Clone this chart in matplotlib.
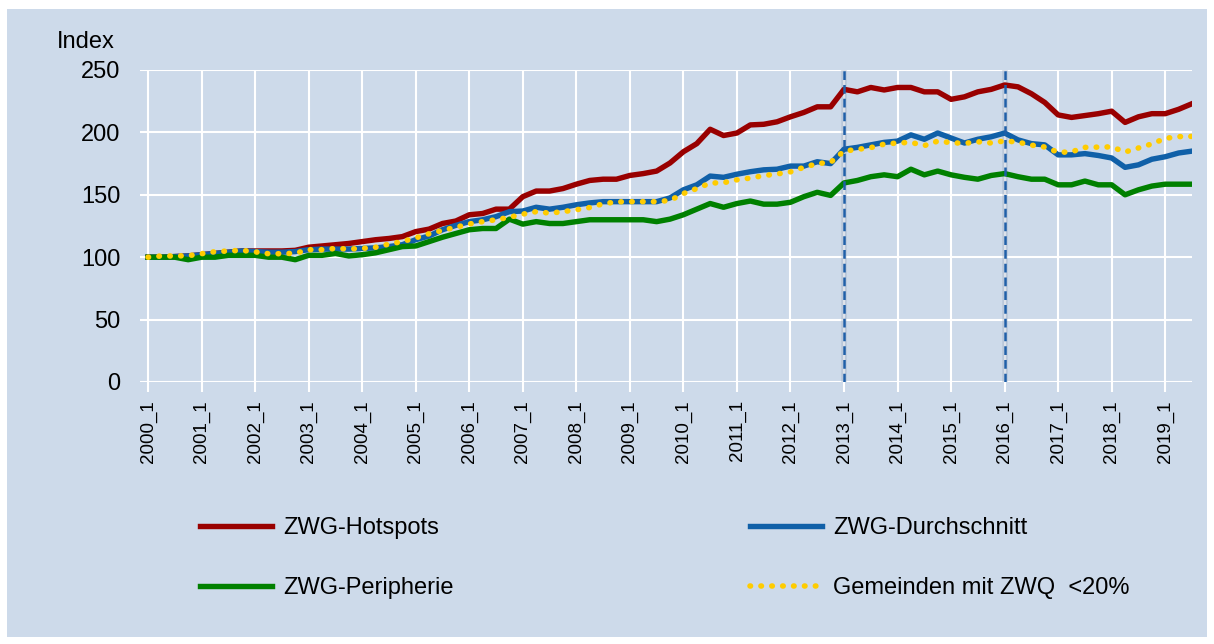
import numpy as np
import matplotlib
matplotlib.use('Agg')
import matplotlib.pyplot as plt
from matplotlib.patches import Rectangle

plt.rcParams['font.family'] = ['Liberation Sans', 'DejaVu Sans']

# --- Daten (Index, Quartale 2000_1 bis 2019_3) ---
hotspots = [100, 100, 100.5, 101, 102, 103, 104, 105, 105, 105, 105, 105.5,
            108, 109, 110, 111, 112.5, 114, 115, 116.5, 120.5, 122.5, 127, 129,
            134, 135, 138.5, 138.5, 148.5, 153, 153, 155, 158.5, 161.5,
            162.5, 162.5, 165.5, 167, 169, 175.5, 184.5, 191, 202.5, 197.5, 199.5, 206,
            206.5, 208.5, 212.5, 216, 220.5, 220.5, 234.5, 232.5, 236, 234, 236, 236,
            232.5, 232.5, 226.5, 228.5, 232.5, 234.5, 238, 236.5, 231, 224, 214, 212,
            213.5, 215, 217, 208, 212.5, 215, 215, 218.5, 223]
durchschnitt = [100, 100, 100.5, 101, 102, 103, 104, 105, 104.5, 104, 104, 104.5,
                106, 106.5, 106.5, 106.5, 107, 107.5, 108.5, 110, 114, 117, 122, 125.5,
                128.5, 130, 132.5, 136.5, 137, 140, 138.5, 140, 142, 143.5,
                144.5, 144.5, 144.5, 144.5, 144.5, 147.5, 154, 158, 165, 164, 166.5, 168.5,
                170, 170.5, 173, 173, 176.5, 175, 186.5, 188, 190, 192, 193, 198,
                194.5, 199.5, 195.5, 191.5, 194.5, 196.5, 199.5, 194, 191, 190, 182, 182,
                183, 181.5, 179.5, 172, 174, 178.5, 180.5, 183.5, 185]
peripherie = [100, 100, 100, 98, 100, 100, 101.5, 101.5, 101.5, 100, 100, 98,
              101.5, 101.5, 103, 101, 102, 103.5, 106, 108.5, 109, 112.5, 116, 119,
              122, 123, 123, 130.5, 126.5, 128.5, 127, 127, 128.5, 130,
              130, 130, 130, 130, 128.5, 130.5, 134, 138.5, 143, 140, 143, 145,
              142.5, 142.5, 144, 148.5, 152, 149.5, 159.5, 161.5, 164.5, 166, 164.5, 170.5,
              166, 169, 166, 164, 162.5, 165.5, 167, 164.5, 162.5, 162.5, 158, 158,
              161, 158, 158, 150, 154, 157, 158.5, 158.5, 158.5]
zwq_unter20 = [100, 101, 101, 101.2, 102.8, 104.4, 105, 105.5, 104.3, 102.8, 102.8, 103.2,
               106, 106, 107, 106.6, 107, 108, 110.5, 112.5, 115.5, 118.8, 121.5, 124,
               126.6, 128.5, 130, 132, 134.5, 136.5, 135.3, 136.5, 138, 139.8,
               142.8, 144.3, 144.5, 144.5, 144.5, 145.5, 151, 155, 159.4, 159.7, 162, 163.4,
               165.4, 166.7, 168.4, 172, 175, 176, 185, 186.4, 187.8, 190.6, 191.5, 192,
               189.4, 193, 191.8, 191.2, 192.5, 191.5, 193.2, 192.2, 189.8, 188.3, 184, 184.4,
               188, 188.2, 188.4, 184.3, 187.5, 190.8, 195.2, 196.6, 196.8]
quartale = [f"{2000 + q // 4}_{q % 4 + 1}" for q in range(len(hotspots))]
markierungen = ['2013_1', '2016_1']
y_ticks = [0, 50, 100, 150, 200, 250]

W, H = 1214, 644
BG = '#cddaea'

fig = plt.figure(figsize=(W / 100, H / 100), dpi=100)
fig.patch.set_facecolor('white')
fig.add_artist(Rectangle((7 / W, 7 / H), (W - 14) / W, (H - 16) / H,
                         transform=fig.transFigure, facecolor=BG,
                         edgecolor='none', zorder=-10))

ax = fig.add_axes([140 / W, 262 / H, 1052 / W, 312 / H])
ax.set_facecolor(BG)
x = np.arange(len(quartale))

l_hot, = ax.plot(x, hotspots, color='#990000', lw=3.9, solid_joinstyle='round', zorder=3)
l_avg, = ax.plot(x, durchschnitt, color='#1060a8', lw=3.9, solid_joinstyle='round', zorder=4)
l_per, = ax.plot(x, peripherie, color='#008000', lw=3.9, solid_joinstyle='round', zorder=5)
l_zwq, = ax.plot(x, zwq_unter20, color='#ffcc00', lw=4, linestyle=(0, (0.1, 1.86)),
                 dash_capstyle='round', zorder=6)

for m in markierungen:
    pos = quartale.index(m)
    ax.axvline(pos, color='#7f8fa8', lw=4, alpha=0.25, zorder=2)
    ax.axvline(pos, color='#1f5fa8', lw=1.8, linestyle=(0, (3.5, 2)), zorder=7)

ax.set_xlim(-0.6, len(quartale) - 1)
ax.set_ylim(0, 250)
ax.set_yticks(y_ticks)
ax.set_xticks(x[::4])
ax.set_xticklabels(quartale[::4], rotation=90, fontsize=13.5)
ax.tick_params(axis='x', length=7, width=1.5, color='white', pad=6)
ax.tick_params(axis='y', length=0, pad=14, labelsize=17)
ax.grid(True, color='white', lw=1.5)
ax.set_axisbelow(True)
for s in ax.spines.values():
    s.set_visible(False)

fig.text(57 / W, 1 - 42 / H, 'Index', ha='left', va='center', fontsize=17)

fs = 17
px = fs * 100 / 72
common = dict(frameon=False, fontsize=fs, handlelength=72 / px, handletextpad=11 / px,
              labelspacing=1.6, borderpad=0, borderaxespad=0, loc='center left')
leg1 = fig.legend([l_hot, l_per], ['ZWG-Hotspots', 'ZWG-Peripherie'],
                  bbox_to_anchor=(200 / W, 1 - 558 / H), **common)
leg2 = fig.legend([l_avg, l_zwq], ['ZWG-Durchschnitt', 'Gemeinden mit ZWQ  <20%'],
                  bbox_to_anchor=(750 / W, 1 - 558 / H), **common)

fig.savefig('out.png', dpi=100, facecolor=fig.get_facecolor())
